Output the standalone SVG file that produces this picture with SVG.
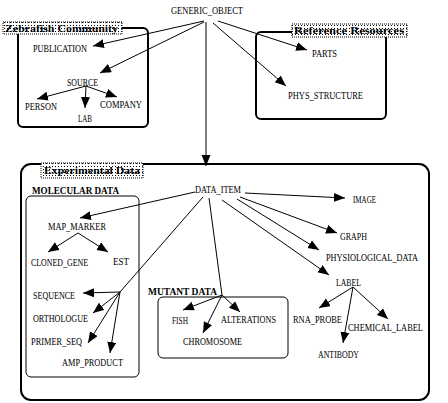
<svg xmlns="http://www.w3.org/2000/svg" width="448" height="403" viewBox="0 0 448 403">
<style>
.t{font-family:"Liberation Serif","DejaVu Serif",serif;font-size:10px;fill:#000}
.b{font-family:"Liberation Serif","DejaVu Serif",serif;font-size:11px;font-weight:bold;fill:#000}
.box{fill:none;stroke:#000;stroke-width:2}
.sub{fill:none;stroke:#000;stroke-width:1}
.lab{fill:url(#dots);stroke:#000;stroke-width:1;stroke-dasharray:1,1}
.e{fill:none;stroke:#000;stroke-width:1;marker-end:url(#ah)}
.p{fill:none;stroke:#000;stroke-width:1}
</style>
<defs>
<pattern id="dots" width="3" height="3" patternUnits="userSpaceOnUse">
<rect width="3" height="3" fill="#fff"/>
<rect x="1" y="1" width="1" height="1" fill="#000"/>
</pattern>
<marker id="ah" markerUnits="userSpaceOnUse" markerWidth="12" markerHeight="10" refX="11" refY="4.5" orient="auto">
<path d="M0,0 L11,4.5 L0,9 z" fill="#000"/>
</marker>
</defs>
<rect width="448" height="403" fill="#fff"/>

<g id="zebrafish-community">
<rect class="box" x="18" y="28" width="130" height="99" rx="5"/>
<rect class="lab" x="3" y="22" width="119" height="12"/>
<text class="b" x="5" y="32" textLength="113" lengthAdjust="spacingAndGlyphs">Zebrafish Community</text>
</g>
<g id="reference-resources">
<rect class="box" x="256" y="32" width="130" height="87" rx="5"/>
<rect class="lab" x="292" y="24" width="115" height="13"/>
<text class="b" x="294" y="34" textLength="110" lengthAdjust="spacingAndGlyphs">Reference Resources</text>
</g>
<g id="experimental-data">
<rect class="box" x="21" y="164" width="408" height="236" rx="10"/>
<rect class="lab" x="41" y="163" width="102" height="15"/>
<text class="b" x="44" y="174" textLength="96" lengthAdjust="spacingAndGlyphs">Experimental Data</text>
</g>
<g id="molecular-data">
<rect class="sub" x="26" y="196" width="113" height="181" rx="5"/>
<text class="b" x="32" y="194" textLength="87" lengthAdjust="spacingAndGlyphs">MOLECULAR DATA</text>
</g>
<g id="mutant-data">
<rect class="sub" x="158" y="297" width="130" height="61" rx="5"/>
<text class="b" x="148" y="295" textLength="69" lengthAdjust="spacingAndGlyphs">MUTANT DATA</text>
</g>

<g id="connectors">
<line class="e" x1="204" y1="21" x2="93" y2="46"/>
<line class="e" x1="204" y1="22" x2="100" y2="73"/>
<line class="e" x1="206" y1="22" x2="206" y2="166"/>
<line class="e" x1="218" y1="21" x2="307" y2="50"/>
<line class="e" x1="213" y1="23" x2="286" y2="86"/>
<line class="e" x1="86" y1="86" x2="37" y2="99"/>
<line class="e" x1="86" y1="86" x2="85" y2="108"/>
<line class="e" x1="86" y1="86" x2="117" y2="97"/>
<line class="e" x1="195" y1="192" x2="80" y2="218"/>
<line class="e" x1="78" y1="233" x2="48" y2="252"/>
<line class="e" x1="78" y1="233" x2="108" y2="252"/>
<line class="p" x1="203" y1="197" x2="120" y2="292"/>
<line class="e" x1="120" y1="292" x2="83" y2="293"/>
<line class="e" x1="120" y1="292" x2="93" y2="313"/>
<line class="e" x1="120" y1="292" x2="88" y2="343"/>
<line class="e" x1="120" y1="292" x2="110" y2="353"/>
<line class="p" x1="209" y1="198" x2="222" y2="295"/>
<line class="e" x1="222" y1="295" x2="183" y2="310"/>
<line class="e" x1="222" y1="295" x2="203" y2="333"/>
<line class="e" x1="222" y1="295" x2="240" y2="312"/>
<line class="e" x1="245" y1="193" x2="345" y2="198"/>
<line class="e" x1="240" y1="197" x2="337" y2="233"/>
<line class="e" x1="237" y1="199" x2="319" y2="250"/>
<line class="e" x1="222" y1="200" x2="329" y2="275"/>
<line class="e" x1="353" y1="287" x2="319" y2="308"/>
<line class="e" x1="353" y1="287" x2="343" y2="343"/>
<line class="e" x1="353" y1="287" x2="388" y2="319"/>
</g>

<g id="generic-object"><text class="t" x="171" y="13.5" textLength="72" lengthAdjust="spacingAndGlyphs">GENERIC_OBJECT</text></g>
<g id="publication"><text class="t" x="33" y="51.5" textLength="54" lengthAdjust="spacingAndGlyphs">PUBLICATION</text></g>
<g id="source"><text class="t" x="67" y="85.5" textLength="31" lengthAdjust="spacingAndGlyphs">SOURCE</text></g>
<g id="person"><text class="t" x="25" y="109.5" textLength="32" lengthAdjust="spacingAndGlyphs">PERSON</text></g>
<g id="lab"><text class="t" x="78" y="121.5" textLength="14" lengthAdjust="spacingAndGlyphs">LAB</text></g>
<g id="company"><text class="t" x="100" y="107.5" textLength="42" lengthAdjust="spacingAndGlyphs">COMPANY</text></g>
<g id="parts"><text class="t" x="312" y="56.5" textLength="25" lengthAdjust="spacingAndGlyphs">PARTS</text></g>
<g id="phys-structure"><text class="t" x="288" y="98.5" textLength="75" lengthAdjust="spacingAndGlyphs">PHYS_STRUCTURE</text></g>
<g id="data-item"><text class="t" x="195" y="192.5" textLength="46" lengthAdjust="spacingAndGlyphs">DATA_ITEM</text></g>
<g id="image"><text class="t" x="353" y="202.5" textLength="23" lengthAdjust="spacingAndGlyphs">IMAGE</text></g>
<g id="graph"><text class="t" x="340" y="239.5" textLength="27" lengthAdjust="spacingAndGlyphs">GRAPH</text></g>
<g id="physiological-data"><text class="t" x="326" y="260.5" textLength="92" lengthAdjust="spacingAndGlyphs">PHYSIOLOGICAL_DATA</text></g>
<g id="label"><text class="t" x="336" y="285.5" textLength="25" lengthAdjust="spacingAndGlyphs">LABEL</text></g>
<g id="rna-probe"><text class="t" x="293" y="322.5" textLength="49" lengthAdjust="spacingAndGlyphs">RNA_PROBE</text></g>
<g id="chemical-label"><text class="t" x="348" y="330.5" textLength="75" lengthAdjust="spacingAndGlyphs">CHEMICAL_LABEL</text></g>
<g id="antibody"><text class="t" x="318" y="357.5" textLength="41" lengthAdjust="spacingAndGlyphs">ANTIBODY</text></g>
<g id="map-marker"><text class="t" x="48" y="229.5" textLength="58" lengthAdjust="spacingAndGlyphs">MAP_MARKER</text></g>
<g id="cloned-gene"><text class="t" x="31" y="265.5" textLength="57" lengthAdjust="spacingAndGlyphs">CLONED_GENE</text></g>
<g id="est"><text class="t" x="113" y="264.5" textLength="16" lengthAdjust="spacingAndGlyphs">EST</text></g>
<g id="sequence"><text class="t" x="33" y="298.5" textLength="42" lengthAdjust="spacingAndGlyphs">SEQUENCE</text></g>
<g id="orthologue"><text class="t" x="33" y="321.5" textLength="55" lengthAdjust="spacingAndGlyphs">ORTHOLOGUE</text></g>
<g id="primer-seq"><text class="t" x="31" y="344.5" textLength="51" lengthAdjust="spacingAndGlyphs">PRIMER_SEQ</text></g>
<g id="amp-product"><text class="t" x="62" y="365.5" textLength="61" lengthAdjust="spacingAndGlyphs">AMP_PRODUCT</text></g>
<g id="fish"><text class="t" x="172" y="323.5" textLength="16" lengthAdjust="spacingAndGlyphs">FISH</text></g>
<g id="alterations"><text class="t" x="221" y="322.5" textLength="55" lengthAdjust="spacingAndGlyphs">ALTERATIONS</text></g>
<g id="chromosome"><text class="t" x="183" y="344.5" textLength="59" lengthAdjust="spacingAndGlyphs">CHROMOSOME</text></g>
</svg>
